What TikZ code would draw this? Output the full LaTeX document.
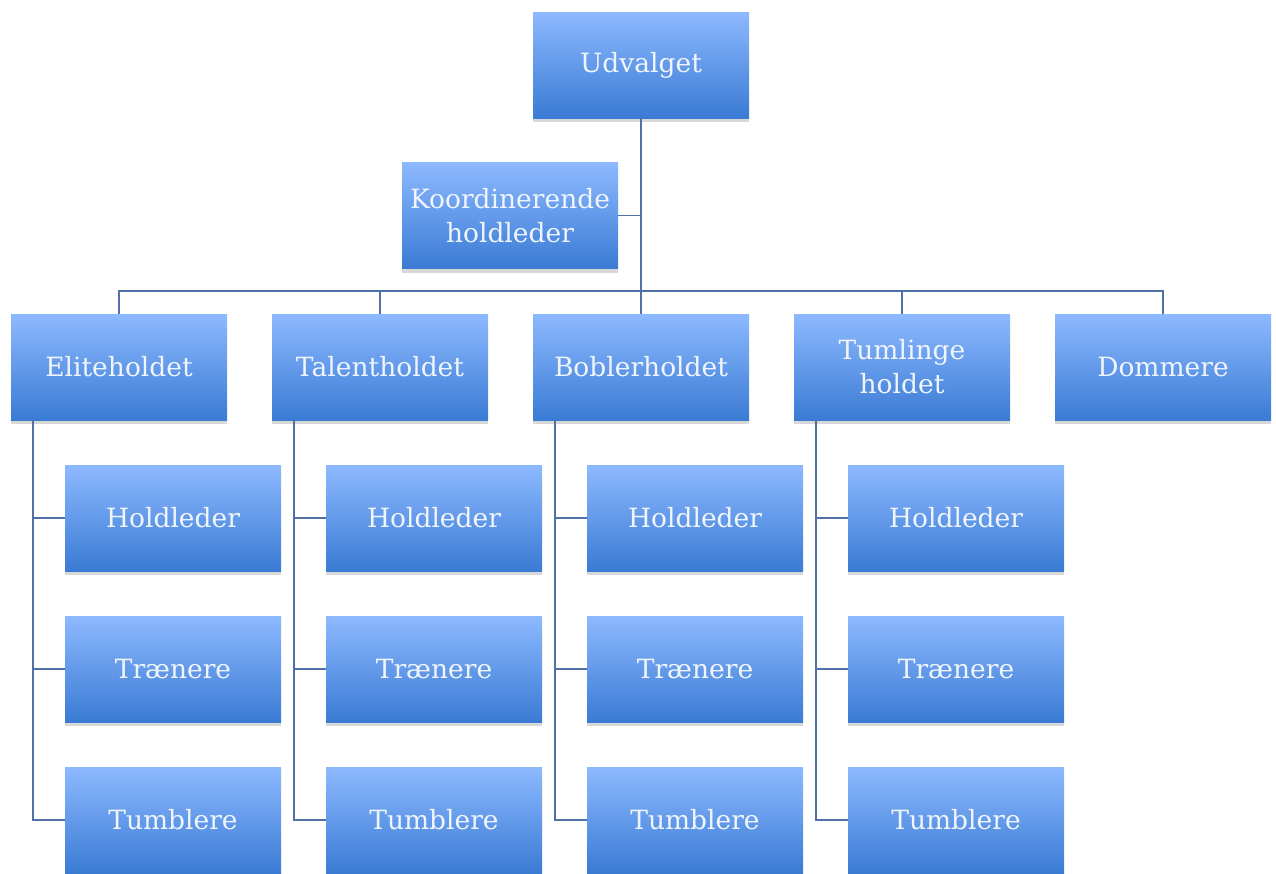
\documentclass[tikz,border=0pt]{standalone}
\usepackage{fontspec}
\setmainfont{DejaVu Serif}
\usetikzlibrary{shadows}
\definecolor{boxtop}{RGB}{141,185,255}
\definecolor{boxbot}{RGB}{58,123,212}
\definecolor{linec}{RGB}{80,112,168}
\definecolor{txt}{RGB}{240,245,252}
\begin{document}
\begin{tikzpicture}[x=1pt,y=-1pt,
  orgbox/.style={rectangle, minimum width=216pt, minimum height=106pt, inner sep=0pt,
    top color=boxtop, bottom color=boxbot, draw=none,
    drop shadow={shadow xshift=0pt, shadow yshift=-4pt, opacity=0.22, fill=black!70},
    text=txt, align=center, font=\fontsize{26.5}{34}\selectfont},
  conn/.style={draw=linec, line width=1.8pt}]
\useasboundingbox (0,0) rectangle (1276,873);
% top
\node[orgbox] (U) at (641,65) {Udvalget};
\node[orgbox] (K) at (510,215.5) {Koordinerende\\holdleder};
% level 2
\node[orgbox] (E) at (119,367) {Eliteholdet};
\node[orgbox] (T) at (380,367) {Talentholdet};
\node[orgbox] (B) at (641,367) {Boblerholdet};
\node[orgbox] (L) at (902,367) {Tumlinge\\holdet};
\node[orgbox] (D) at (1163,367) {Dommere};
% children
\foreach \p/\x in {E/173,T/434,B/695,L/956}{
  \node[orgbox] (\p1) at (\x,518) {Holdleder};
  \node[orgbox] (\p2) at (\x,669) {Trænere};
  \node[orgbox] (\p3) at (\x,820) {Tumblere};
}
\coordinate (bus) at (641,291);
\draw[conn] (U.south) -- (B.north);
\draw[conn] (K.east) -- (K.east -| U.south);
\draw[conn] (E.north) |- (bus) -| (D.north);
\draw[conn] (T.north) -- (T.north |- bus);
\draw[conn] (L.north) -- (L.north |- bus);
\foreach \p in {E,T,B,L}{
  \draw[conn] ([xshift=22pt]\p.south west) |- (\p3.west);
  \draw[conn] ([xshift=22pt]\p.south west |- \p1.west) -- (\p1.west);
  \draw[conn] ([xshift=22pt]\p.south west |- \p2.west) -- (\p2.west);
}
\end{tikzpicture}
\end{document}
